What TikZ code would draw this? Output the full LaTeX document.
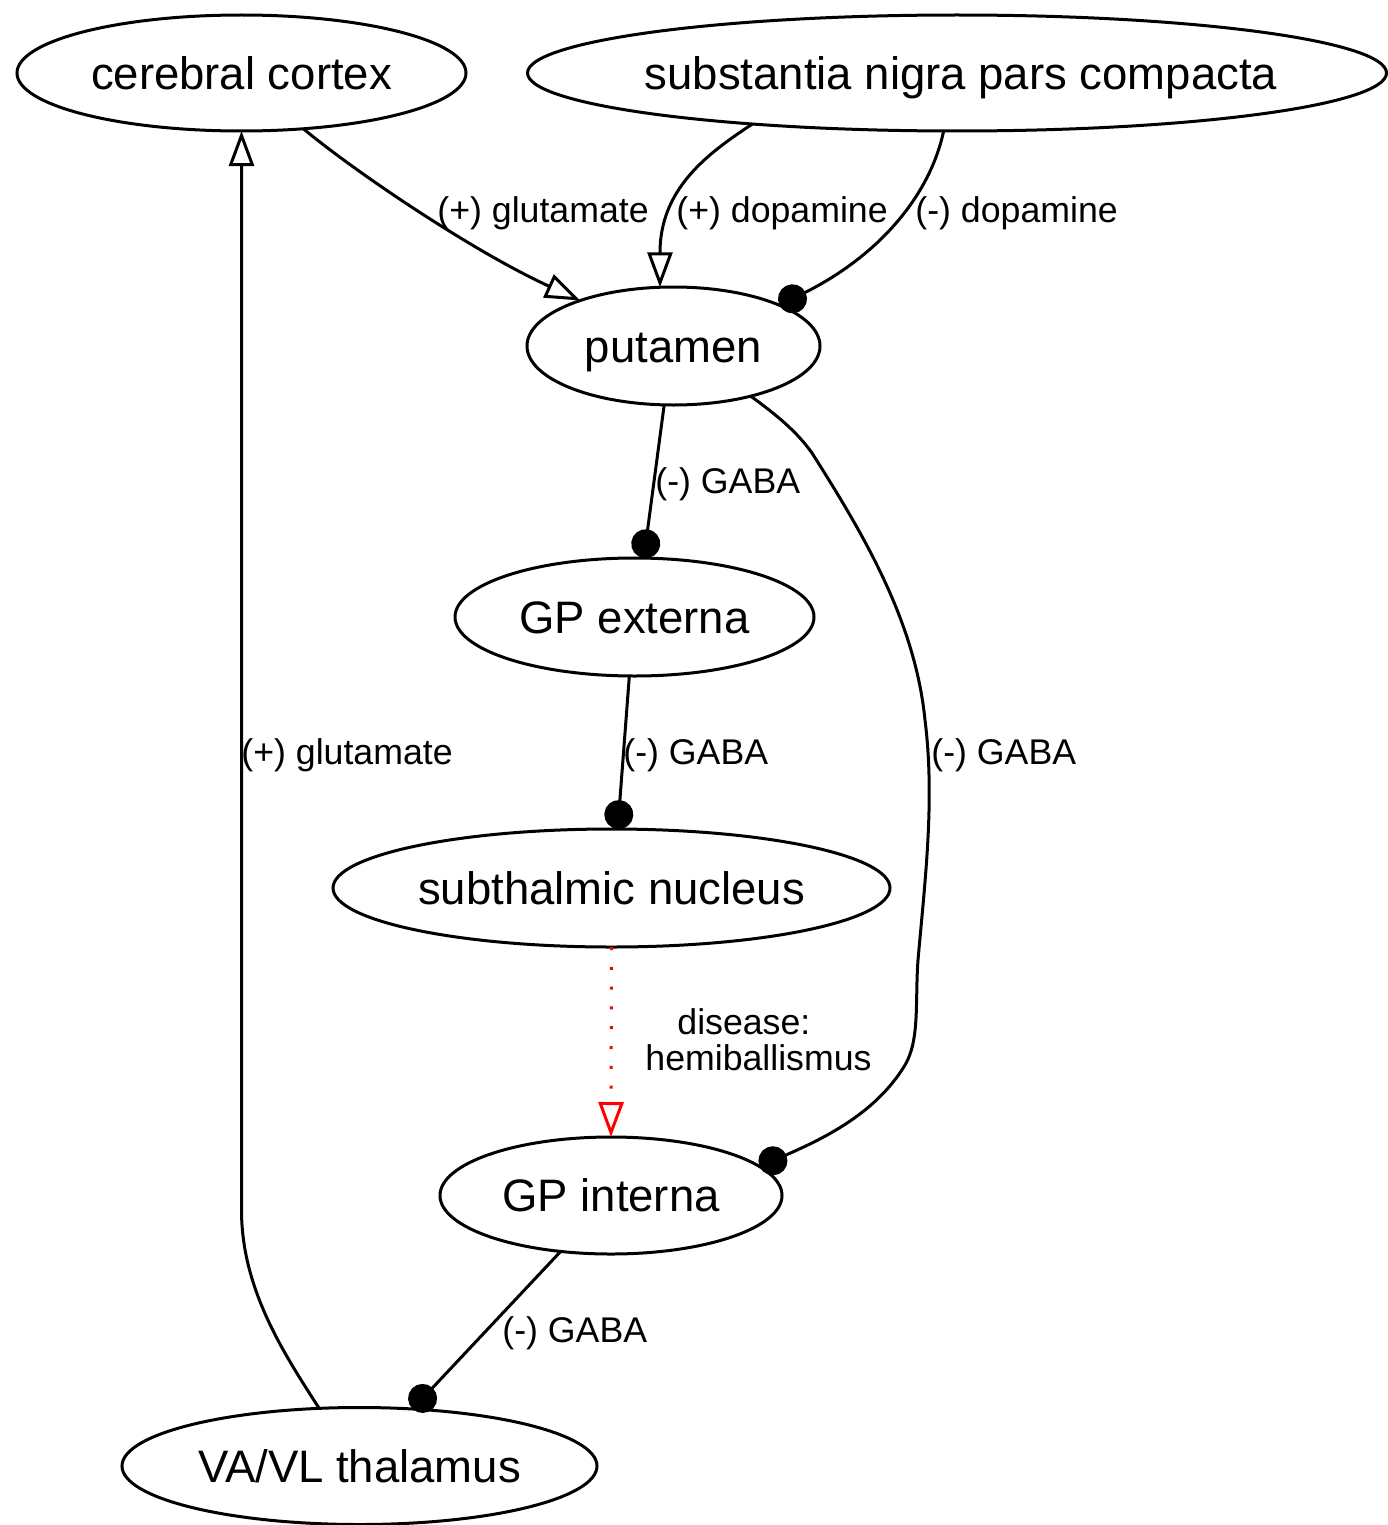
\documentclass[tikz,border=0pt]{standalone}
\usepackage{fontspec}
\setmainfont{Liberation Sans}
\usetikzlibrary{arrows.meta,shapes.geometric}
\begin{document}
\begin{tikzpicture}[x=0.5pt,y=-0.5pt,
  state/.style={draw, ellipse, line width=1.5pt, inner sep=0pt, outer sep=0pt,
    text height=16.3pt, text depth=0pt, font=\fontsize{22.75pt}{27pt}\selectfont},
  lbl/.style={inner sep=0pt, anchor=base west, font=\fontsize{17.85pt}{21.5pt}\selectfont},
  edgeline/.style={line width=1.5pt},
  exc/.style={edgeline, -{Triangle[open,length=17.5pt,width=12.5pt]}},
  inh/.style={edgeline, -{Circle[length=14.5pt]}},
]
\useasboundingbox (0,0) rectangle (1387,1525);

\node[state, minimum width=224.5pt, minimum height=58pt] (cc) at (241.5,73) {\makebox[0pt]{cerebral cortex}};
\node[state, minimum width=429.5pt, minimum height=58pt] (sn) at (957,73) {\makebox[0pt]{\hspace{4pt}substantia nigra pars compacta}};
\node[state, minimum width=146.5pt, minimum height=59pt] (put) at (673.5,346) {\makebox[0pt]{putamen}};
\node[state, minimum width=179.5pt, minimum height=59pt] (gpe) at (634.5,617) {\makebox[0pt]{GP externa}};
\node[state, minimum width=278.5pt, minimum height=59pt] (stn) at (611.5,888) {\makebox[0pt]{subthalmic nucleus}};
\node[state, minimum width=171pt, minimum height=58.5pt] (gpi) at (611,1195.5) {\makebox[0pt]{GP interna}};
\node[state, minimum width=237.5pt, minimum height=58.5pt] (th) at (359.5,1466) {\makebox[0pt]{VA/VL thalamus}};

% edges
\draw[exc] (cc.-42.4) .. controls (350,168) and (470,250) .. (put.154.3);
\draw[exc] (sn.194.7) .. controls (705,155) and (660,190) .. (put.103);
\draw[inh] (sn.257.4) .. controls (930,195) and (880,255) .. (put.21.8);
\draw[inh] (put.261.8) -- (gpe.81.7);
\draw[inh] (put.-33.7) .. controls (778,416) and (797,432) .. (812,453)
  .. controls (862,532) and (915,620) .. (925,720)
  .. controls (935,800) and (925,880) .. (918,960)
  .. controls (915,1000) and (920,1040) .. (905,1065)
  .. controls (875,1115) and (820,1140) .. (gpi.11.6);
\draw[inh] (gpe.265) -- (stn.84.6);
\draw[red, line width=1.5pt, dash pattern=on 1.5pt off 8.4pt,
  -{Triangle[open,length=17.5pt,width=12.5pt]}] (stn.south) -- (gpi.north);
\draw[inh] (gpi.228) -- (th.47.6);
\draw[exc] (th.125.6) .. controls (285,1355) and (241.5,1290) .. (241.5,1210) -- (cc.south);

% labels
\node[lbl] (l1) at (437,222) {(+) glutamate};
\node[lbl] (l2) at (676,222) {(+) dopamine};
\node[lbl] (l3) at (915,222) {(-) dopamine};
\node[lbl] (l4) at (655,493) {(-) GABA};
\node[lbl] (l5) at (623,764) {(-) GABA};
\node[lbl] (l6) at (931,764) {(-) GABA};
\node[lbl] (l7) at (241,764) {(+) glutamate};
\node[lbl] (l8) at (502,1342) {(-) GABA};
\node[lbl] (l9) at (677,1034) {disease:};
\node[lbl] (l10) at (645,1070) {hemiballismus};
\end{tikzpicture}
\end{document}
